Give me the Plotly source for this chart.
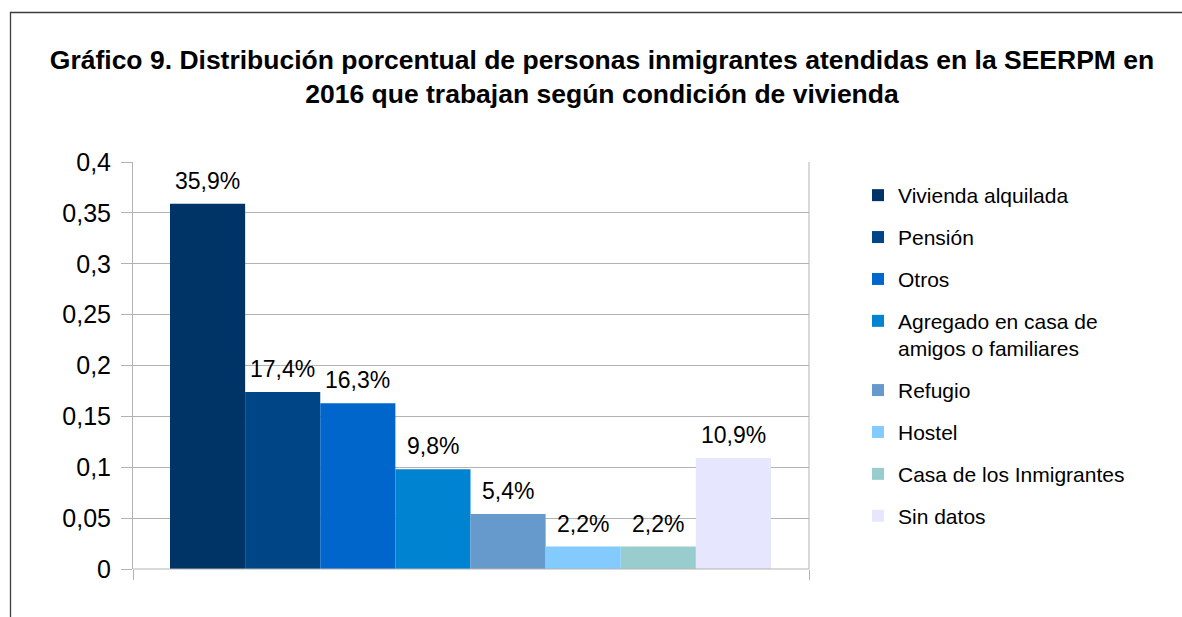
import plotly.graph_objects as go

categories = ["Vivienda alquilada", "Pensión", "Otros",
              "Agregado en casa de<br>amigos o familiares", "Refugio",
              "Hostel", "Casa de los Inmigrantes", "Sin datos"]
values = [0.359, 0.174, 0.163, 0.098, 0.054, 0.022, 0.022, 0.109]
labels = ["35,9%", "17,4%", "16,3%", "9,8%", "5,4%", "2,2%", "2,2%", "10,9%"]
colors = ["#003366", "#004586", "#0066cc", "#0084d1", "#6699cc",
          "#83caff", "#99cccc", "#e6e6ff"]
y_ticks = [0, 0.05, 0.1, 0.15, 0.2, 0.25, 0.3, 0.35, 0.4]

FONT = "Liberation Sans, Arial, sans-serif"

W, H = 1182, 617
L, R, T, B = 133, 373, 162, 48
pw, ph = W - L - R, H - T - B

def px(x):
    return (x - L) / pw

def py(y):
    return (H - B - y) / ph

fig = go.Figure()
annotations = []
for i, (name, v, lab, c) in enumerate(zip(categories, values, labels, colors)):
    fig.add_trace(go.Bar(
        x=[i], y=[v], name=name, width=1,
        marker=dict(color=c, line=dict(width=0)),
        legendgroup=f"g{i}", hoverinfo="skip",
    ))
    annotations.append(dict(
        x=i, y=v, xref="x", yref="y", text=lab, showarrow=False,
        yanchor="bottom", xanchor="center", yshift=8,
        font=dict(size=23, family=FONT, color="#000000"),
    ))

bar_px = (771 - 170) / len(values)
x_lo = -0.5 - (170 - L) / bar_px
x_hi = len(values) - 0.5 + (W - R - 771) / bar_px

fig.update_layout(
    width=W, height=H,
    margin=dict(l=L, r=R, t=T, b=B, autoexpand=False),
    paper_bgcolor="white", plot_bgcolor="white",
    separators=", ",
    barmode="overlay",
    font=dict(family=FONT, color="#000000"),
    title=dict(
        text="<b>Gráfico 9. Distribución porcentual de personas inmigrantes atendidas en la SEERPM en<br>2016 que trabajan según condición de vivienda</b>",
        x=602 / W, xref="container", xanchor="center",
        y=1 - 69 / H, yanchor="middle", yref="container",
        font=dict(size=26.5, family=FONT, color="#000000"),
    ),
    showlegend=True,
    legend=dict(
        x=px(858), y=py(175), xanchor="left", yanchor="top",
        font=dict(size=21, family=FONT, color="#000000"),
        tracegroupgap=11.6, itemwidth=30, bgcolor="rgba(0,0,0,0)",
        traceorder="grouped", valign="top",
    ),
    xaxis=dict(
        range=[x_lo, x_hi], tickvals=[x_lo, x_hi], ticktext=["", ""],
        ticks="outside", ticklen=10, tickcolor="#b3b3b3", tickwidth=1,
        showgrid=False, zeroline=False, showline=False, fixedrange=True,
    ),
    yaxis=dict(
        range=[0, 0.4], tickvals=y_ticks,
        ticks="outside", ticklen=11, tickcolor="#b3b3b3", tickwidth=1,
        showgrid=True, gridcolor="#b3b3b3", gridwidth=1,
        zeroline=False, showline=True, linecolor="#b3b3b3", linewidth=1,
        tickfont=dict(size=25, family=FONT, color="#000000"),
        ticklabelstandoff=5, fixedrange=True,
    ),
    annotations=annotations,
    shapes=[
        dict(type="line", xref="paper", yref="paper",
             x0=1, x1=1, y0=0, y1=1,
             line=dict(color="#b3b3b3", width=1)),
        dict(type="line", xref="paper", yref="paper",
             x0=0, x1=1, y0=0, y1=0,
             line=dict(color="#b3b3b3", width=1)),
        dict(type="path", xref="paper", yref="paper",
             path=f"M {px(10.5)},{py(640)} L {px(10.5)},{py(12.5)} L {px(1200)},{py(12.5)}",
             line=dict(color="#3c3c3c", width=1.3)),
    ],
)

fig.write_html("out.html", config={"displayModeBar": False},
               post_script="document.body.style.margin='0';document.body.style.overflow='hidden';")
